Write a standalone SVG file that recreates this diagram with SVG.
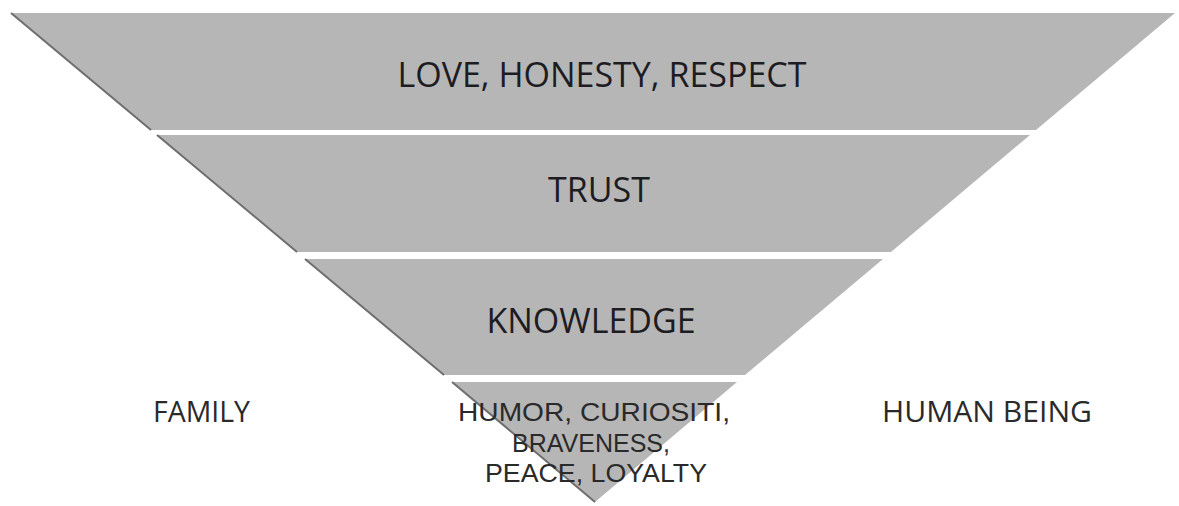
<svg xmlns="http://www.w3.org/2000/svg" width="1179" height="506" viewBox="0 0 1179 506">
  <style>
    .band { fill: #b6b6b6; stroke: none; }
    .edge { stroke: #6e6e6e; stroke-width: 2; fill: none; }
    .lbl { font-family: "Open Sans", "Liberation Sans", sans-serif; font-size: 34px; fill: #1c1c22; text-anchor: middle; }
    .side { font-family: "Open Sans", "Liberation Sans", sans-serif; font-size: 29px; fill: #2a2a2a; }
    .inner { font-family: "Liberation Sans", Arial, sans-serif; font-size: 26px; fill: #2a2a2a; text-anchor: middle; }
  </style>
  <rect width="1179" height="506" fill="#ffffff"/>
  <g id="level1">
    <polygon class="band" points="11,13 1175,13 1036,130 151,130"/>
    <line class="edge" x1="11" y1="13" x2="151" y2="130"/>
    <text class="lbl" x="602" y="87">LOVE, HONESTY, RESPECT</text>
  </g>
  <g id="level2">
    <polygon class="band" points="157,135 1030,135 891,252 297,252"/>
    <line class="edge" x1="157" y1="135" x2="297" y2="252"/>
    <text class="lbl" x="599" y="202">TRUST</text>
  </g>
  <g id="level3">
    <polygon class="band" points="305,259 883,259 745,375 444,375"/>
    <line class="edge" x1="305" y1="259" x2="444" y2="375"/>
    <text class="lbl" x="591" y="333">KNOWLEDGE</text>
  </g>
  <g id="level4">
    <polygon class="band" points="452,382 737,382 595,502"/>
    <line class="edge" x1="452" y1="382" x2="595" y2="502"/>
    <text class="inner" x="594" y="421" textLength="272" lengthAdjust="spacingAndGlyphs">HUMOR, CURIOSITI,</text>
    <text class="inner" x="591" y="452" textLength="158" lengthAdjust="spacingAndGlyphs">BRAVENESS,</text>
    <text class="inner" x="596" y="482" textLength="222" lengthAdjust="spacingAndGlyphs">PEACE, LOYALTY</text>
  </g>
  <g id="family">
    <text class="side" x="153" y="422" textLength="97" lengthAdjust="spacingAndGlyphs">FAMILY</text>
  </g>
  <g id="human-being">
    <text class="side" x="882" y="422" textLength="210" lengthAdjust="spacingAndGlyphs">HUMAN BEING</text>
  </g>
  <g id="connectors"/>
</svg>
